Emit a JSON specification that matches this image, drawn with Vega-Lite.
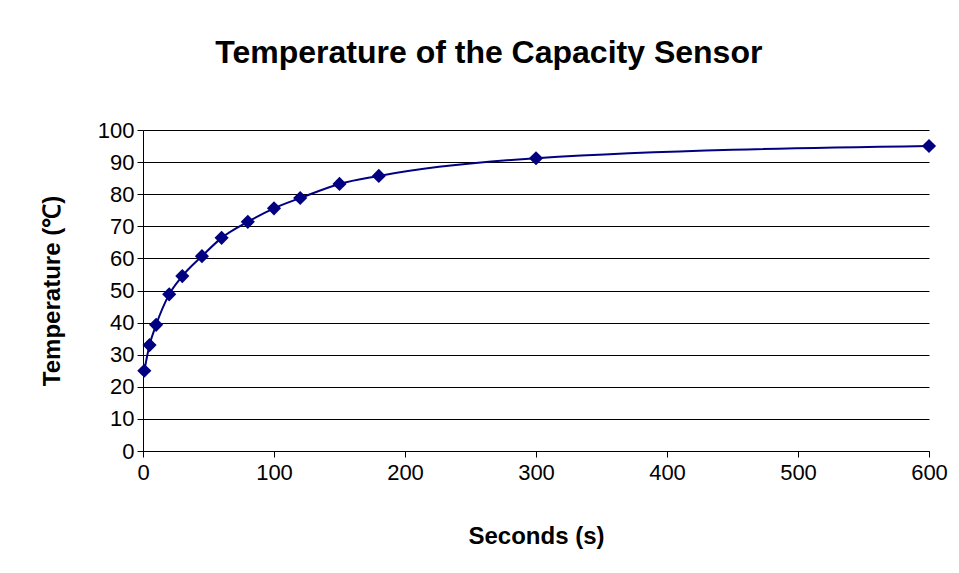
{
  "$schema": "https://vega.github.io/schema/vega-lite/v6.json",
  "width": 786,
  "height": 321,
  "autosize": "none",
  "padding": {"left": 143, "top": 130, "right": 30, "bottom": 122},
  "background": "white",
  "title": {
    "text": "Temperature of the Capacity Sensor",
    "font": "Liberation Sans",
    "fontSize": 32,
    "fontWeight": "bold",
    "color": "black",
    "anchor": "middle",
    "frame": "bounds",
    "offset": 49,
    "dx": -5
  },
  "config": {
    "view": {"stroke": null},
    "axis": {
      "labelFont": "Liberation Sans",
      "titleFont": "Liberation Sans",
      "labelColor": "black",
      "titleColor": "black",
      "domainColor": "black",
      "tickColor": "black",
      "gridColor": "black",
      "gridOpacity": 1,
      "domainWidth": 1,
      "tickWidth": 1,
      "gridWidth": 1
    }
  },
  "data": {
    "values": [
      {"s": 1, "t": 25},
      {"s": 5, "t": 33},
      {"s": 10, "t": 39.3},
      {"s": 20, "t": 48.8},
      {"s": 30, "t": 54.5},
      {"s": 45, "t": 60.7},
      {"s": 60, "t": 66.4},
      {"s": 80, "t": 71.4},
      {"s": 100, "t": 75.6},
      {"s": 120, "t": 78.8},
      {"s": 150, "t": 83.2},
      {"s": 180, "t": 85.7},
      {"s": 300, "t": 91.2},
      {"s": 600, "t": 95}
    ]
  },
  "encoding": {
    "x": {
      "field": "s",
      "type": "quantitative",
      "scale": {"domain": [0, 600], "nice": false},
      "axis": {
        "title": "Seconds (s)",
        "values": [0, 100, 200, 300, 400, 500, 600],
        "grid": false,
        "tickSize": 6,
        "labelFontSize": 22,
        "labelPadding": 5,
        "labelFlush": false,
        "titleFontSize": 24,
        "titleFontWeight": "bold",
        "titlePadding": 41
      }
    },
    "y": {
      "field": "t",
      "type": "quantitative",
      "scale": {"domain": [0, 100], "nice": false},
      "axis": {
        "title": "Temperature (℃)",
        "values": [0, 10, 20, 30, 40, 50, 60, 70, 80, 90, 100],
        "grid": true,
        "tickSize": 6,
        "labelFontSize": 22,
        "labelPadding": 3,
        "titleFontSize": 24,
        "titleFontWeight": "bold",
        "titlePadding": 33
      }
    }
  },
  "layer": [
    {
      "mark": {"type": "line", "color": "#000080", "strokeWidth": 2, "interpolate": "monotone"}
    },
    {
      "mark": {"type": "point", "shape": "diamond", "filled": true, "color": "#000080", "opacity": 1, "size": 200}
    }
  ]
}
